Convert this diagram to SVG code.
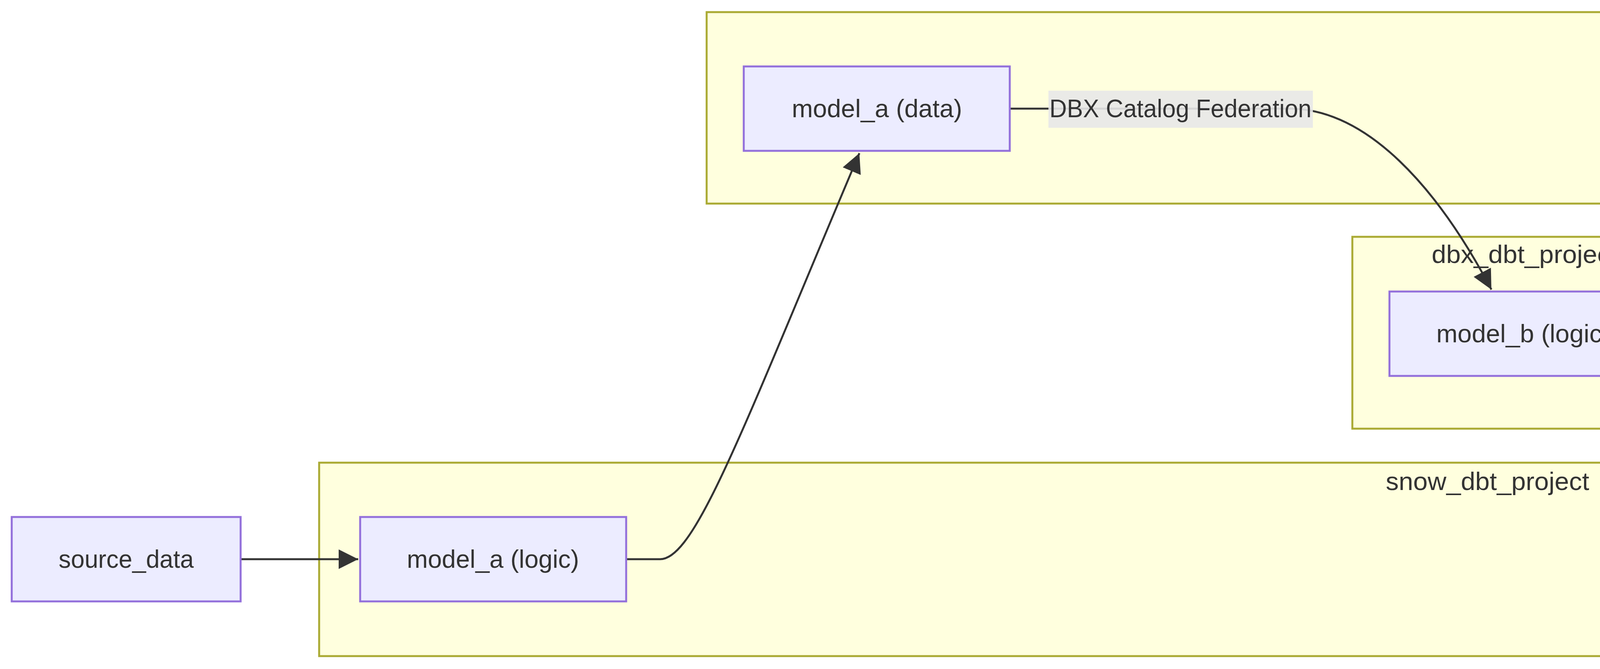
<svg xmlns="http://www.w3.org/2000/svg" width="7857" height="1712" viewBox="0 0 7857 1712">
<style>
.cl{fill:#ffffde;stroke:#aaaa33;stroke-width:5}
.nd{fill:#ececff;stroke:#9370db;stroke-width:5}
.lb{fill:#e8e8e8;opacity:0.9}
text{font-family:"Liberation Sans",Arial,sans-serif;font-size:64px;fill:#333;text-anchor:middle;dominant-baseline:central}
.e{fill:none;stroke:#333;stroke-width:5}
</style>
<defs>
<marker id="ah" markerUnits="userSpaceOnUse" markerWidth="50" markerHeight="50" viewBox="0 0 10 10" refX="10" refY="5" orient="auto">
<path d="M0,0 L10,5 L0,10 z" fill="#333"/>
</marker>
</defs>
<rect fill="#fff" width="7857" height="1712"/>
<g id="horizon_catalog"><rect class="cl" x="1809" y="31" width="6012" height="490"/><text x="4810" y="80" textLength="456" lengthAdjust="spacingAndGlyphs">horizon_catalog</text></g>
<g id="dbx_dbt_project"><rect class="cl" x="3462" y="606" width="882" height="491"/><text x="3903" y="651" textLength="476" lengthAdjust="spacingAndGlyphs">dbx_dbt_project</text></g>
<g id="unity_catalog"><rect class="cl" x="4544" y="606" width="882" height="491"/><text x="4985" y="651" textLength="381" lengthAdjust="spacingAndGlyphs">unity_catalog</text></g>
<g id="snow_dbt_project"><rect class="cl" x="817" y="1184" width="6032" height="495"/><text x="3808" y="1232" textLength="521" lengthAdjust="spacingAndGlyphs">snow_dbt_project</text></g>
<g id="connectors">
<path class="e" d="M616,1431 L917,1431" marker-end="url(#ah)"/>
<path class="e" d="M1603,1431 L1690,1431 C1780,1431 1900,1100 2200,392" marker-end="url(#ah)"/>
<path class="e" d="M2585,278 L3300,278 C3500,278 3680,480 3818,741" marker-end="url(#ah)"/>
<path class="e" d="M4244,854 L4640,854" marker-end="url(#ah)"/>
<path class="e" d="M5331,854 L5350,854 C5450,854 5650,1310 5800,1395 C5860,1430 5900,1432 6060,1432" marker-end="url(#ah)"/>
<path class="e" d="M6749,1432 L6790,1432 C6840,1432 6870,1000 6900,600 C6930,300 6960,278 7040,278" marker-end="url(#ah)"/>
</g>
<g id="lbl_dbx"><rect class="lb" x="2684" y="232" width="677" height="95"/><text x="3022" y="278" textLength="671" lengthAdjust="spacingAndGlyphs">DBX Catalog Federation</text></g>
<g id="lbl_snow"><rect class="lb" x="5530" y="1384" width="437" height="96"/><text x="5748" y="1432" textLength="437" lengthAdjust="spacingAndGlyphs">Snow CLD Read</text></g>
<g id="source_data"><rect class="nd" x="30" y="1323" width="586" height="216"/><text x="323" y="1431" textLength="346" lengthAdjust="spacingAndGlyphs">source_data</text></g>
<g id="model_a_logic"><rect class="nd" x="922" y="1323" width="681" height="216"/><text x="1262" y="1431" textLength="441" lengthAdjust="spacingAndGlyphs">model_a (logic)</text></g>
<g id="model_a_data"><rect class="nd" x="1904" y="170" width="681" height="216"/><text x="2245" y="278" textLength="436" lengthAdjust="spacingAndGlyphs">model_a (data)</text></g>
<g id="model_b_logic"><rect class="nd" x="3557" y="746" width="687" height="216"/><text x="3900" y="854" textLength="446" lengthAdjust="spacingAndGlyphs">model_b (logic)</text></g>
<g id="model_b_data"><rect class="nd" x="4645" y="746" width="686" height="216"/><text x="4988" y="854" textLength="441" lengthAdjust="spacingAndGlyphs">model_b (data)</text></g>
<g id="model_c_logic"><rect class="nd" x="6065" y="1324" width="684" height="216"/><text x="6407" y="1432" textLength="442" lengthAdjust="spacingAndGlyphs">model_c (logic)</text></g>
<g id="model_c_data"><rect class="nd" x="7045" y="170" width="556" height="216"/><text x="7323" y="278" textLength="431" lengthAdjust="spacingAndGlyphs">model_c (data)</text></g>
</svg>
